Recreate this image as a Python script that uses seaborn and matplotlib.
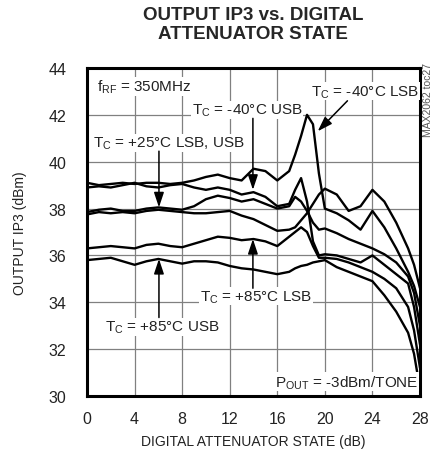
import matplotlib
matplotlib.use("Agg")
import matplotlib.pyplot as plt
import matplotlib.font_manager as fm
import pandas as pd
import seaborn as sns

ATTEN_DB = [0, 1, 2, 3, 4, 5, 6, 7, 8, 9, 10, 11, 12, 13, 14, 15, 16, 17,
            17.5, 18, 18.5, 19, 19.5, 20, 21, 22, 23, 24, 25, 26, 27, 27.5, 28]

IP3_M40_LSB = [39.1, 39.0, 39.05, 39.1, 39.05, 39.1, 39.1, 39.05, 39.1, 39.2, 39.35,
               39.45, 39.3, 39.2, 39.7, 39.6, 39.2, 39.6, 40.3, 41.1, 42.0, 41.6,
               39.5, 38.0, 37.8, 37.5, 37.1, 37.9, 37.2, 36.3, 35.3, 34.7, 33.8]
IP3_M40_USB = [38.9, 38.95, 38.9, 39.0, 39.1, 38.95, 38.9, 39.0, 39.05, 38.9, 38.8,
               38.9, 38.8, 38.6, 38.7, 38.5, 38.1, 38.2, 38.8, 39.3, 38.3, 36.6,
               36.0, 36.05, 36.0, 35.85, 35.7, 36.0, 35.6, 35.2, 34.8, 33.8, 32.2]
IP3_P25_LSB = [37.85, 37.95, 38.0, 37.9, 37.9, 38.0, 38.05, 38.0, 37.95, 38.1, 38.4,
               38.55, 38.45, 38.3, 38.4, 38.2, 38.0, 38.1, 38.5, 38.3, 37.9, 37.4,
               37.1, 37.15, 36.95, 36.7, 36.5, 36.3, 36.05, 35.7, 35.1, 34.4, 33.0]
IP3_P25_USB = [37.75, 37.85, 37.8, 37.85, 37.8, 37.9, 37.95, 37.9, 37.85, 37.8, 37.8,
               37.85, 37.9, 37.7, 37.55, 37.3, 37.05, 37.1, 37.2, 37.5, 37.8, 38.2,
               38.6, 38.85, 38.6, 37.9, 38.1, 38.8, 38.3, 37.4, 36.3, 35.6, 34.6]
IP3_P85_LSB = [36.3, 36.35, 36.4, 36.35, 36.3, 36.45, 36.5, 36.4, 36.35, 36.5, 36.65,
               36.8, 36.75, 36.65, 36.7, 36.6, 36.4, 36.8, 37.0, 37.2, 37.0, 36.4,
               35.9, 35.9, 35.85, 35.7, 35.5, 35.3, 35.0, 34.6, 33.8, 32.8, 31.2]
IP3_P85_USB = [35.8, 35.85, 35.9, 35.75, 35.6, 35.75, 35.85, 35.75, 35.65, 35.75, 35.75,
               35.7, 35.55, 35.45, 35.4, 35.3, 35.2, 35.3, 35.45, 35.55, 35.6, 35.7,
               35.75, 35.8, 35.5, 35.3, 35.1, 34.9, 34.3, 33.6, 32.7, 31.8, 30.3]

SERIES = {
    "-40C LSB": IP3_M40_LSB,
    "-40C USB": IP3_M40_USB,
    "+25C LSB": IP3_P25_LSB,
    "+25C USB": IP3_P25_USB,
    "+85C LSB": IP3_P85_LSB,
    "+85C USB": IP3_P85_USB,
}

X_TICKS = [0, 4, 8, 12, 16, 20, 24, 28]
Y_TICKS = [30, 32, 34, 36, 38, 40, 42, 44]

sns.set_style("white")
names = {f.name for f in fm.fontManager.ttflist}
NARROW = "Liberation Sans Narrow" if "Liberation Sans Narrow" in names else "Liberation Sans"
plt.rcParams["font.family"] = [NARROW, "DejaVu Sans"]
plt.rcParams["mathtext.fontset"] = "custom"
plt.rcParams["mathtext.rm"] = NARROW
plt.rcParams["mathtext.it"] = NARROW

rows = []
for name, vals in SERIES.items():
    for x, y in zip(ATTEN_DB, vals):
        rows.append({"state": x, "ip3": y, "curve": name})
df = pd.DataFrame(rows)

fig = plt.figure(figsize=(4.48, 4.60), dpi=100)
ax = fig.add_axes([87 / 448, 63 / 460, 333 / 448, 328 / 460])

sns.lineplot(data=df, x="state", y="ip3", hue="curve", ax=ax,
             palette=["black"] * len(SERIES), linewidth=1.7, legend=False,
             sort=False, estimator=None)

ax.set_xlim(0, 28)
ax.set_ylim(30, 44)
ax.set_xticks(X_TICKS)
ax.set_yticks(Y_TICKS)
ax.grid(True, color="#808080", linewidth=0.9)
ax.set_axisbelow(True)
ax.tick_params(length=0, labelsize=11.5, colors="#222222")
ax.tick_params(axis="y", pad=15)
ax.tick_params(axis="x", pad=11)
ax.set_xlabel("")
ax.set_ylabel("")
for sp in ax.spines.values():
    sp.set_linewidth(2.2)
    sp.set_color("black")

fig.text(253 / 448, 1 - 25 / 460, "OUTPUT IP3 vs. DIGITAL\nATTENUATOR STATE",
         ha="center", va="center", fontsize=13.5, fontweight="bold", linespacing=1.1)
fig.text(253 / 448, 1 - 442 / 460, "DIGITAL ATTENUATOR STATE (dB)",
         ha="center", va="center", fontsize=10, color="#222222")
fig.text(20 / 448, 1 - 233 / 460, "OUTPUT IP3 (dBm)", rotation=90,
         ha="center", va="center", fontsize=10, color="#222222")
fig.text(428 / 448, 1 - 100 / 460, "MAX2062 toc27", rotation=90,
         ha="center", va="center", fontsize=7.5, color="#555555")

box = dict(facecolor="white", edgecolor="none", pad=0.5)
arrow = dict(arrowstyle="-|>,head_length=0.9,head_width=0.3", color="black",
             lw=1.1, shrinkA=0, shrinkB=0)
lbl = dict(fontsize=11, color="#222222", va="center", bbox=box)

ax.text(0.8, 43.2, r"f$_{\rm RF}$ = 350MHz", ha="left", **lbl)
ax.text(8.8, 42.2, r"T$_{\rm C}$ = -40°C USB", ha="left", **lbl)
ax.annotate("", xy=(13.95, 38.8), xytext=(13.95, 41.85), arrowprops=arrow)
ax.text(18.8, 43.0, r"T$_{\rm C}$ = -40°C LSB", ha="left", **lbl)
ax.annotate("", xy=(19.4, 41.3), xytext=(21.9, 42.6), arrowprops=arrow)
ax.text(0.5, 40.8, r"T$_{\rm C}$ = +25°C LSB, USB", ha="left", **lbl)
ax.annotate("", xy=(6.05, 38.05), xytext=(6.05, 40.45), arrowprops=arrow)
ax.text(9.5, 34.25, r"T$_{\rm C}$ = +85°C LSB", ha="left", **lbl)
ax.annotate("", xy=(13.95, 36.7), xytext=(13.95, 34.6), arrowprops=arrow)
ax.text(1.5, 32.95, r"T$_{\rm C}$ = +85°C USB", ha="left", **lbl)
ax.annotate("", xy=(6.05, 35.85), xytext=(6.05, 33.35), arrowprops=arrow)
ax.text(15.8, 30.6, r"P$_{\rm OUT}$ = -3dBm/TONE", ha="left", **lbl)

fig.savefig("out.png", dpi=100)
